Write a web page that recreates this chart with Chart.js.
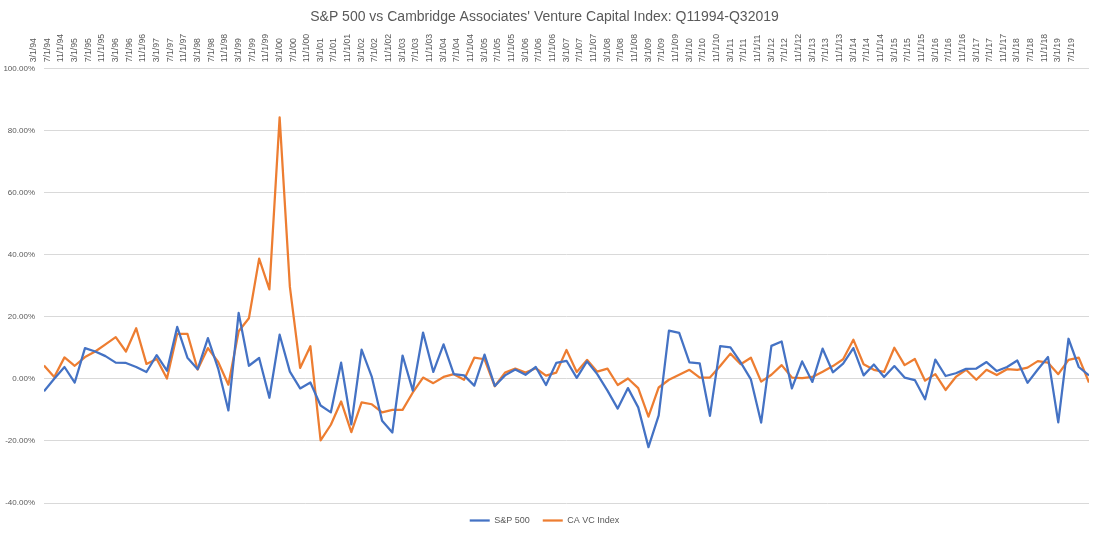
<!DOCTYPE html>
<html>
<head>
<meta charset="utf-8">
<title>S&amp;P 500 vs CA VC Index</title>
<script src="https://cdn.jsdelivr.net/npm/chart.js@4.4.1/dist/chart.umd.min.js"></script>
<style>
  html, body { margin: 0; padding: 0; background: #fff; }
  #wrap { width: 1099px; height: 539px; position: relative; }
</style>
</head>
<body>
<div id="wrap"><canvas id="chart"></canvas></div>
<script>
// quarterly returns in %, Q1 1994 .. Q3 2019 (103 quarters)
const spReturns = [
  -4.0, 0.0, 3.8, -1.2, 9.9, 8.8, 7.3, 5.2, 5.1, 3.8, 2.2, 7.6,
  2.6, 16.7, 6.8, 3.1, 13.1, 3.3, -10.2, 21.2, 4.2, 6.7, -6.1, 14.2,
  2.3, -3.1, -1.2, -8.6, -10.8, 5.2, -14.7, 9.4, 0.6, -13.5, -17.3, 7.5,
  -3.8, 14.9, 2.2, 11.1, 1.5, 1.1, -2.2, 7.8, -2.3, 1.1, 3.0, 1.3,
  3.8, -2.0, 5.1, 5.8, 0.3, 5.6, 1.5, -3.8, -9.6, -3.0, -9.2, -22.0,
  -11.8, 15.5, 14.8, 5.3, 5.0, -11.9, 10.5, 10.1, 5.3, -0.2, -14.1, 10.6,
  12.0, -3.1, 5.6, -1.0, 9.7, 2.1, 4.9, 9.9, 1.1, 4.6, 0.6, 4.1,
  0.4, -0.4, -6.6, 6.2, 0.9, 1.8, 3.2, 3.3, 5.4, 2.5, 3.8, 5.9,
  -1.3, 3.0, 7.0, -14.0, 12.9, 3.8, 1.1
];

const vcReturns = [
  4.3, 0.6, 6.9, 4.2, 7.0, 8.8, 11.1, 13.4, 8.8, 16.3, 4.8, 6.4,
  0.1, 14.5, 14.5, 3.0, 9.9, 5.4, -1.9, 15.3, 19.5, 38.7, 28.8, 84.2,
  29.6, 3.5, 10.5, -19.8, -14.8, -7.3, -17.2, -7.6, -8.2, -10.8, -10.0, -10.0,
  -4.4, 0.4, -1.4, 0.6, 1.5, -0.3, 6.8, 6.3, -2.4, 2.0, 3.3, 2.0,
  3.4, 1.0, 2.0, 9.3, 2.2, 6.1, 2.3, 3.3, -2.0, 0.1, -3.0, -12.2,
  -2.8, -0.3, 1.3, 2.9, 0.4, 0.4, 4.1, 8.1, 4.7, 6.8, -0.9, 1.3,
  4.4, 0.4, 0.2, 0.6, 2.3, 4.1, 6.3, 12.6, 4.7, 2.9, 2.2, 10.0,
  4.4, 6.4, -0.6, 1.5, -3.6, 0.6, 2.9, -0.3, 2.9, 1.2, 3.1, 2.9,
  3.6, 5.7, 5.2, 1.5, 6.1, 6.8, -1.2
];

// date labels on the top axis, one every 4 months starting 3/1/94
const tickLabels = [
  '3/1/94', '7/1/94', '11/1/94', '3/1/95', '7/1/95', '11/1/95',
  '3/1/96', '7/1/96', '11/1/96', '3/1/97', '7/1/97', '11/1/97',
  '3/1/98', '7/1/98', '11/1/98', '3/1/99', '7/1/99', '11/1/99',
  '3/1/00', '7/1/00', '11/1/00', '3/1/01', '7/1/01', '11/1/01',
  '3/1/02', '7/1/02', '11/1/02', '3/1/03', '7/1/03', '11/1/03',
  '3/1/04', '7/1/04', '11/1/04', '3/1/05', '7/1/05', '11/1/05',
  '3/1/06', '7/1/06', '11/1/06', '3/1/07', '7/1/07', '11/1/07',
  '3/1/08', '7/1/08', '11/1/08', '3/1/09', '7/1/09', '11/1/09',
  '3/1/10', '7/1/10', '11/1/10', '3/1/11', '7/1/11', '11/1/11',
  '3/1/12', '7/1/12', '11/1/12', '3/1/13', '7/1/13', '11/1/13',
  '3/1/14', '7/1/14', '11/1/14', '3/1/15', '7/1/15', '11/1/15',
  '3/1/16', '7/1/16', '11/1/16', '3/1/17', '7/1/17', '11/1/17',
  '3/1/18', '7/1/18', '11/1/18', '3/1/19', '7/1/19'
];

const MONTHS_PER_QUARTER = 3;
const MONTHS_PER_TICK = 4;
const textGray = '#595959';

Chart.defaults.font.family = '"Liberation Sans", Arial, sans-serif';
Chart.defaults.color = textGray;

// x = months since March 1994
function toPoints(values) {
  return values.map((v, i) => ({ x: i * MONTHS_PER_QUARTER, y: v }));
}

const legendHeight = {
  id: 'legendHeight',
  beforeInit(chart) {
    const fit = chart.legend.fit;
    chart.legend.fit = function () {
      fit.bind(chart.legend)();
      this.height = 36;
    };
  }
};

new Chart(document.getElementById('chart'), {
  type: 'line',
  data: {
    datasets: [
      {
        label: 'S&P 500',
        data: toPoints(spReturns),
        borderColor: '#4472C4',
        backgroundColor: '#4472C4',
        borderWidth: 2.25,
        pointRadius: 0,
        pointStyle: 'line',
        borderJoinStyle: 'round',
        tension: 0
      },
      {
        label: 'CA VC Index',
        data: toPoints(vcReturns),
        borderColor: '#ED7D31',
        backgroundColor: '#ED7D31',
        borderWidth: 2.25,
        pointRadius: 0,
        pointStyle: 'line',
        borderJoinStyle: 'round',
        tension: 0
      }
    ]
  },
  options: {
    responsive: true,
    maintainAspectRatio: false,
    animation: false,
    layout: { padding: { left: 0, right: 10, top: 0, bottom: 0 } },
    scales: {
      x: {
        type: 'linear',
        position: 'top',
        min: 0,
        max: (spReturns.length - 1) * MONTHS_PER_QUARTER,
        grid: { display: false, drawTicks: false },
        border: { display: false },
        afterBuildTicks: (scale) => {
          scale.ticks = tickLabels.map((_, i) => ({ value: i * MONTHS_PER_TICK }));
        },
        afterFit: (scale) => { scale.height = 40.5; },
        ticks: {
          autoSkip: false,
          minRotation: 90,
          maxRotation: 90,
          padding: 6,
          color: textGray,
          font: { size: 8.7 },
          callback: (v) => tickLabels[Math.round(v / MONTHS_PER_TICK)]
        }
      },
      y: {
        min: -40,
        max: 100,
        grid: { color: '#d9d9d9', lineWidth: 1, drawTicks: false },
        border: { display: false },
        afterFit: (scale) => { scale.width = 44; },
        ticks: {
          stepSize: 20,
          padding: 9,
          color: textGray,
          font: { size: 8 },
          callback: (v) => v.toFixed(2) + '%'
        }
      }
    },
    plugins: {
      title: {
        display: true,
        text: "S&P 500 vs Cambridge Associates' Venture Capital Index: Q11994-Q32019",
        color: textGray,
        font: { size: 14, weight: 'normal' },
        padding: { top: 9, bottom: 2 }
      },
      legend: {
        position: 'bottom',
        labels: {
          usePointStyle: true,
          pointStyle: 'line',
          pointStyleWidth: 20,
          padding: 13,
          color: textGray,
          font: { size: 9 }
        }
      },
      tooltip: { enabled: false }
    }
  },
  plugins: [legendHeight]
});
</script>
</body>
</html>
